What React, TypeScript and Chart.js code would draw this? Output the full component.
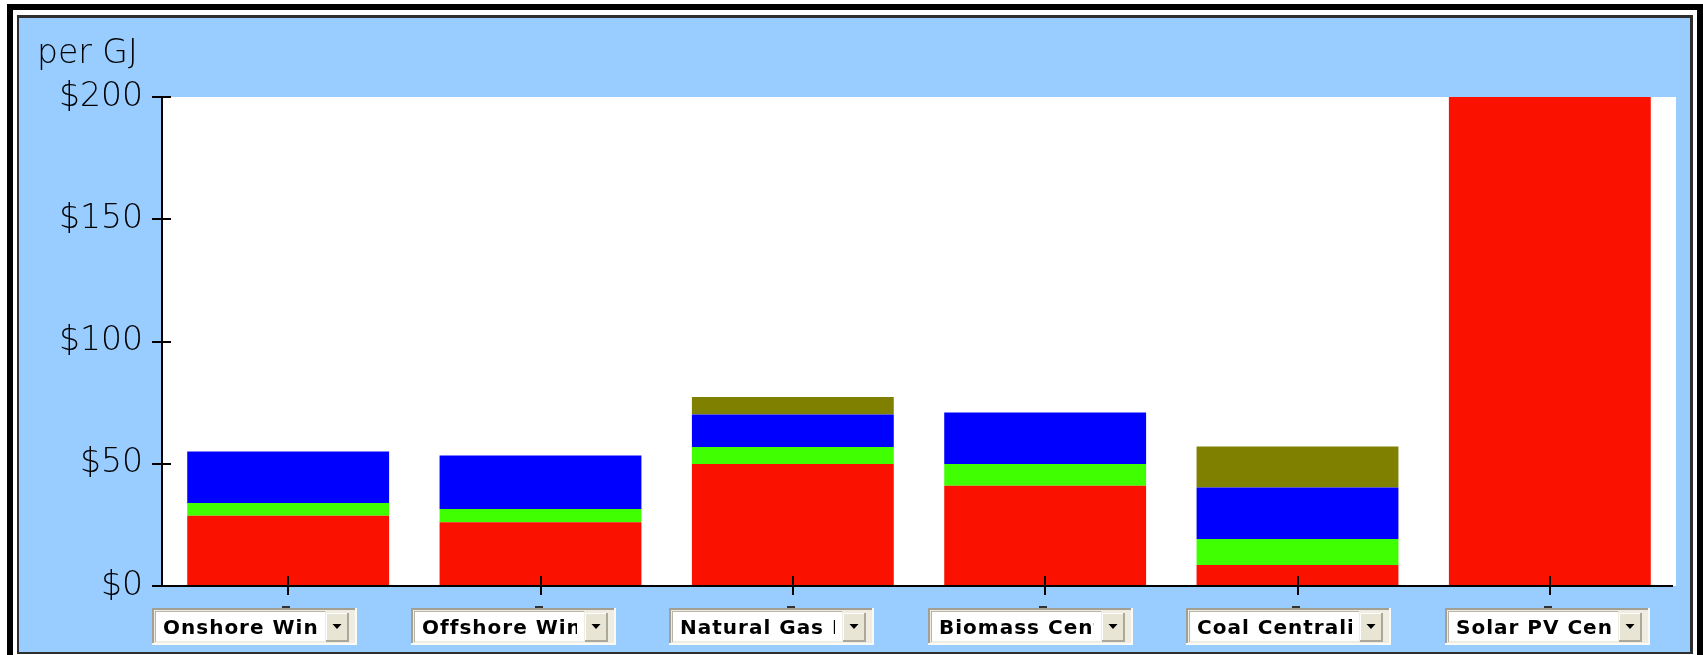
import React, { useEffect, useRef } from "react";
import { Chart, registerables } from "chart.js";

Chart.register(...registerables);

// ---- Data ----
const categories = [
  "Onshore Wind",
  "Offshore Wind",
  "Natural Gas Distributed",
  "Biomass Centralized",
  "Coal Centralized",
  "Solar PV Centralized",
];
const seriesNames = ["Capital", "O&M", "Transmission", "Fuel"];
const capital = [28.7, 26.1, 49.9, 41.0, 8.6, 240];
const om = [5.2, 5.4, 6.9, 8.9, 10.6, 0];
const transmission = [21.1, 21.9, 13.3, 21.1, 21.1, 0];
const fuel = [0, 0, 7.2, 0, 16.8, 0];
const seriesColors = ["#FA1100", "#40FF00", "#0000FF", "#808000"];
const yMin = 0;
const yMax = 200;
const yStep = 50;
const unitLabel = "per GJ";

const BLUE = "#99CCFF";

const framePlugin = {
  id: "frame",
  beforeDraw(chart: any) {
    const ctx = chart.ctx;
    const W = chart.width;
    const H = chart.height;
    const { left, top, right, bottom } = chart.chartArea;
    ctx.save();
    ctx.fillStyle = "#ffffff";
    ctx.fillRect(0, 0, W, H);
    ctx.fillStyle = "#000000";
    ctx.fillRect(7, 4, W - 7, H);
    ctx.fillStyle = "#ffffff";
    ctx.fillRect(13, 10, W - 6 - 13, H);
    ctx.fillStyle = "#2e2e2e";
    ctx.fillRect(17, 15, W - 10 - 17, H - 1 - 15);
    ctx.fillStyle = BLUE;
    ctx.fillRect(19, 18, W - 13 - 19, H - 3 - 18);
    ctx.fillStyle = "#ffffff";
    ctx.fillRect(left, top, right - left, bottom - top);
    ctx.restore();
  },
  afterDraw(chart: any) {
    const ctx = chart.ctx;
    const { left, top, right, bottom } = chart.chartArea;
    const xs = chart.scales.x;
    const ys = chart.scales.y;
    ctx.save();
    ctx.strokeStyle = "#000000";
    ctx.lineWidth = 2;
    ctx.beginPath();
    ctx.moveTo(left, top);
    ctx.lineTo(left, bottom + 1);
    ctx.moveTo(left - 10, bottom);
    ctx.lineTo(right - 3, bottom);
    ys.ticks.forEach((t: any) => {
      const y = Math.round(ys.getPixelForValue(t.value));
      ctx.moveTo(left - 10, y);
      ctx.lineTo(left + 9, y);
    });
    categories.forEach((_c, i) => {
      const x = Math.round(xs.getPixelForValue(i));
      ctx.moveTo(x, bottom - 10);
      ctx.lineTo(x, bottom + 9);
    });
    ctx.stroke();

    // unit label
    ctx.fillStyle = "#000000";
    ctx.font = "200 33px 'DejaVu Sans'";
    ctx.textAlign = "left";
    ctx.textBaseline = "alphabetic";
    ctx.fillText(unitLabel, 37, 63);

    // dropdown boxes
    const step = (right - left) * 0.1708;
    const T = bottom + 22;
    const BW = 205;
    const BH = 37;
    categories.forEach((name, i) => {
      const x = Math.round(xs.getPixelForValue(i));
      ctx.fillStyle = "#333333";
      ctx.fillRect(x - 6, T - 2, 8, 2);
      const L = Math.round(left - 10 + i * step);
      ctx.fillStyle = "#EFEDE2";
      ctx.fillRect(L, T, BW, BH);
      ctx.fillStyle = "#A3A093";
      ctx.fillRect(L, T, BW, 2);
      ctx.fillRect(L, T, 2, BH);
      ctx.fillStyle = "#FBFAF5";
      ctx.fillRect(L, T + BH - 2, BW, 2);
      ctx.fillRect(L + BW - 2, T, 2, BH);
      ctx.fillStyle = "#B8B5A6";
      ctx.fillRect(L + 3, T + 3, 170, 1);
      ctx.fillRect(L + 3, T + 3, 1, BH - 6);
      ctx.fillStyle = "#ffffff";
      ctx.fillRect(L + 4, T + 4, 169, BH - 8);
      // button
      const bx = L + 174;
      const by = T + 5;
      const bw = 21;
      const bh = BH - 10;
      ctx.fillStyle = "#ACA899";
      ctx.fillRect(bx, by, bw + 2, bh + 2);
      ctx.fillStyle = "#ffffff";
      ctx.fillRect(bx, by, bw, bh);
      ctx.fillStyle = "#E8E5D5";
      ctx.fillRect(bx + 1, by + 1, bw - 1, bh - 1);
      const cx = bx + bw / 2 + 0.5;
      const cy = by + bh / 2;
      ctx.fillStyle = "#000000";
      ctx.beginPath();
      ctx.moveTo(cx - 4.5, cy - 2.5);
      ctx.lineTo(cx + 4.5, cy - 2.5);
      ctx.lineTo(cx, cy + 2.5);
      ctx.closePath();
      ctx.fill();
      // text, clipped to field
      ctx.save();
      ctx.beginPath();
      ctx.rect(L + 4, T + 4, 162, BH - 8);
      ctx.clip();
      ctx.fillStyle = "#000000";
      ctx.font = "bold 20px 'DejaVu Sans'";
      try {
        (ctx as any).letterSpacing = "1px";
      } catch (e) {}
      ctx.textAlign = "left";
      ctx.textBaseline = "alphabetic";
      ctx.fillText(name, L + 11, T + 26);
      ctx.restore();
    });
    ctx.restore();
  },
};

export default function App() {
  const canvasRef = useRef<HTMLCanvasElement | null>(null);

  useEffect(() => {
    if (!canvasRef.current) return;
    const series = [capital, om, transmission, fuel];
    const chart = new Chart(canvasRef.current, {
      type: "bar",
      data: {
        labels: categories,
        datasets: series.map((d, i) => ({
          label: seriesNames[i],
          data: d,
          backgroundColor: seriesColors[i],
          borderWidth: 0,
          barPercentage: 0.8,
          categoryPercentage: 1.0,
          clip: 0,
        })),
      },
      options: {
        responsive: false,
        animation: false,
        devicePixelRatio: 1,
        layout: { padding: { left: 0, top: 97, right: 27, bottom: 0 } },
        plugins: {
          legend: { display: false },
          tooltip: { enabled: false },
          title: { display: false },
        },
        scales: {
          x: {
            stacked: true,
            grid: { display: false },
            border: { display: false },
            ticks: { display: false },
            afterFit: (s: any) => {
              s.height = 69;
            },
          },
          y: {
            stacked: true,
            min: yMin,
            max: yMax,
            ticks: {
              stepSize: yStep,
              padding: 9,
              color: "#000000",
              font: { family: "'DejaVu Sans'", size: 33, weight: 200 as any },
              callback: (v: any) => "$" + v,
            },
            grid: {
              drawOnChartArea: false,
              drawTicks: true,
              tickLength: 10,
              color: "rgba(0,0,0,0)",
            },
            border: { display: false },
            afterFit: (s: any) => {
              s.width = 162;
            },
          },
        },
      },
      plugins: [framePlugin],
    });
    return () => chart.destroy();
  }, []);

  return (
    <div style={{ position: "fixed", left: 0, top: 0, width: 1703, height: 655, background: "#fff" }}>
      <canvas ref={canvasRef} width={1703} height={655} style={{ display: "block" }} />
    </div>
  );
}
